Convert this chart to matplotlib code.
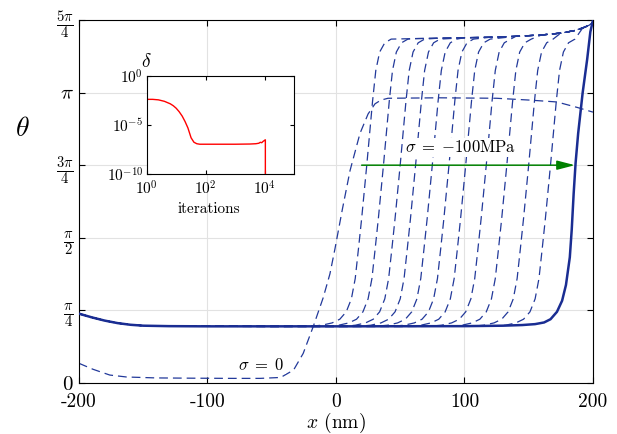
import numpy as np
import matplotlib
matplotlib.use("Agg")
from matplotlib import pyplot as plt

plt.rcParams['mathtext.fontset'] = 'cm'
plt.rcParams['font.family'] = 'cmr10'
plt.rcParams['axes.unicode_minus'] = False
plt.rcParams['axes.formatter.use_mathtext'] = True

# final (converged) profile, solid line
solid_x = [-200, -190, -180, -170, -160, -150, -130, -100, 0, 100, 130, 145, 155, 162, 167,
           172, 176, 179, 182, 183.5, 185, 186.5, 188.5, 192, 195.5, 198, 200]
solid_theta = [0.75, 0.71, 0.675, 0.648, 0.63, 0.62, 0.615, 0.613, 0.613, 0.615, 0.62, 0.627,
               0.637, 0.655, 0.69, 0.77, 0.89, 1.06, 1.36, 1.66, 2.05, 2.38, 2.70, 3.14, 3.50, 3.80, 3.92]

# initial profile, sigma = 0
s0_x = [-200, -189, -176, -163, -140, -111, -80, -59, -43, -33, -25.5, -17.7, -10, -4.7, -0.8,
        5, 11, 18.7, 25, 30.4, 35, 40.5, 80, 125, 151, 172, 188, 200]
s0_theta = [0.213, 0.148, 0.086, 0.065, 0.055, 0.052, 0.05, 0.05, 0.06, 0.14, 0.32, 0.61, 0.92,
            1.18, 1.45, 1.88, 2.30, 2.70, 2.91, 3.02, 3.06, 3.08, 3.085, 3.08, 3.06, 3.04, 2.98, 2.93]

# intermediate profiles: front position (theta = 3pi/4) and the common shape
front_x = [24, 37, 50, 62, 75, 88, 101, 117, 133, 150, 167]
profile_dx = [-45, -35, -27, -21, -16, -12, -9, -6.5, -4, 0, 4.5, 7, 10, 14, 19]
profile_theta = [0.613, 0.625, 0.65, 0.69, 0.77, 0.91, 1.13, 1.45, 1.78, 2.36, 3.05, 3.38,
                 3.58, 3.68, 3.72]
base_x = [-200, -190, -180, -170, -160, -150, -130, -100, -50, 0, 50, 100, 150]
base_theta = [0.75, 0.71, 0.675, 0.648, 0.63, 0.62, 0.615, 0.613, 0.612, 0.612, 0.612, 0.613, 0.615]
top_x = [40, 60, 80, 100, 120, 140, 160, 175, 185, 192, 197, 200]
top_theta = [3.72, 3.725, 3.73, 3.735, 3.74, 3.75, 3.765, 3.785, 3.81, 3.84, 3.87, 3.9]

# inset: residual vs iterations
iters = [1, 1.6, 2.5, 4, 6.3, 8, 10, 12.6, 16, 20, 25, 32, 40, 50, 63, 100, 1000, 3162,
         5000, 6300, 7100, 7900, 8900, 10000, 10500, 10500]
delta_log10 = [-2.4, -2.4, -2.45, -2.6, -2.85, -3.05, -3.3, -3.65, -4.1, -4.65, -5.3, -6.3,
               -6.75, -6.9, -6.95, -6.95, -6.95, -6.93, -6.9, -6.85, -6.75, -6.8, -6.65, -6.55,
               -6.5, -12]

yticks = [0, np.pi / 4, np.pi / 2, 3 * np.pi / 4, np.pi, 5 * np.pi / 4]
ytick_labels = ['$0$', r'$\frac{\pi}{4}$', r'$\frac{\pi}{2}$', r'$\frac{3\pi}{4}$', r'$\pi$',
                r'$\frac{5\pi}{4}$']
xticks = [-200, -100, 0, 100, 200]
xtick_labels = ['-200', '-100', '0', '100', '200']

line_col = '#22399a'
fig = plt.figure(figsize=(6.17, 4.34), dpi=100)
ax = fig.add_axes([0.128, 0.1175, 0.833, 0.8365])

for c in front_x:
    bx = np.array(base_x)
    tx = np.array(top_x)
    left = bx < c + profile_dx[0]
    right = tx > c + profile_dx[-1]
    xs = np.concatenate([bx[left], c + np.array(profile_dx), tx[right]])
    ys = np.concatenate([np.array(base_theta)[left], profile_theta, np.array(top_theta)[right]])
    ax.plot(xs, ys, color=line_col, lw=0.9, dashes=(7, 4))

ax.plot(s0_x, s0_theta, color=line_col, lw=0.9, dashes=(7, 4))
ax.plot(solid_x, solid_theta, color='#1a2d92', lw=1.8, zorder=5)

ax.annotate('', xy=(186, 3 * np.pi / 4), xytext=(20, 3 * np.pi / 4),
            arrowprops=dict(arrowstyle='-|>,head_length=1.08,head_width=0.28',
                            mutation_scale=10, color='#008000', lw=1.1,
                            shrinkA=0, shrinkB=0), zorder=6)
ax.text(97, 2.55, r'$\sigma\;=\;{-}100\mathrm{MPa}$', fontsize=12, ha='center', va='center',
        bbox=dict(facecolor='white', edgecolor='none', pad=1), zorder=4)
ax.text(-58, 0.2, r'$\sigma\;=\;0$', fontsize=12, ha='center', va='center',
        bbox=dict(facecolor='white', edgecolor='none', pad=1), zorder=4)

ax.set_xlim(-200, 200)
ax.set_ylim(0, 5 * np.pi / 4)
ax.set_xticks(xticks)
ax.set_xticklabels(xtick_labels, fontsize=14)
ax.set_yticks(yticks)
ax.set_yticklabels(ytick_labels, fontsize=15)
ax.grid(True, color='#e2e2e2', lw=0.8)
ax.tick_params(direction='in', length=4, width=0.8, top=True, right=True, pad=4)
ax.tick_params(axis='x', pad=7)
for s in ax.spines.values():
    s.set_linewidth(0.8)
ax.set_xlabel('$x$ (nm)', fontsize=14, labelpad=0)
ax.set_ylabel(r'$\theta$', fontsize=20, rotation=0)
ax.yaxis.set_label_coords(-0.11, 0.665)

# inset
ins = fig.add_axes([0.2377, 0.5984, 0.2392, 0.2272])
ins.plot(iters, 10.0 ** np.array(delta_log10), color='red', lw=1)
ins.set_xscale('log')
ins.set_yscale('log')
ins.set_xlim(1, 1e5)
ins.set_ylim(1e-10, 1)
ins.set_xticks([1, 1e2, 1e4])
ins.set_xticklabels(['$10^{0}$', '$10^{2}$', '$10^{4}$'], fontsize=11)
ins.set_yticks([1e-10, 1e-5, 1])
ins.set_yticklabels(['$10^{-10}$', '$10^{-5}$', '$10^{0}$'], fontsize=11)
ins.minorticks_off()
ins.tick_params(direction='in', length=3, width=0.8, top=True, right=True, pad=2.5)
ins.tick_params(axis='x', pad=4)
for s in ins.spines.values():
    s.set_linewidth(0.8)
ins.set_xlabel('iterations', fontsize=11, labelpad=1)
ins.xaxis.set_label_coords(0.42, -0.28)
ins.text(0.0, 1.14, r'$\delta$', transform=ins.transAxes, fontsize=14, ha='center', va='center')

fig.savefig('out.png', dpi=100)
